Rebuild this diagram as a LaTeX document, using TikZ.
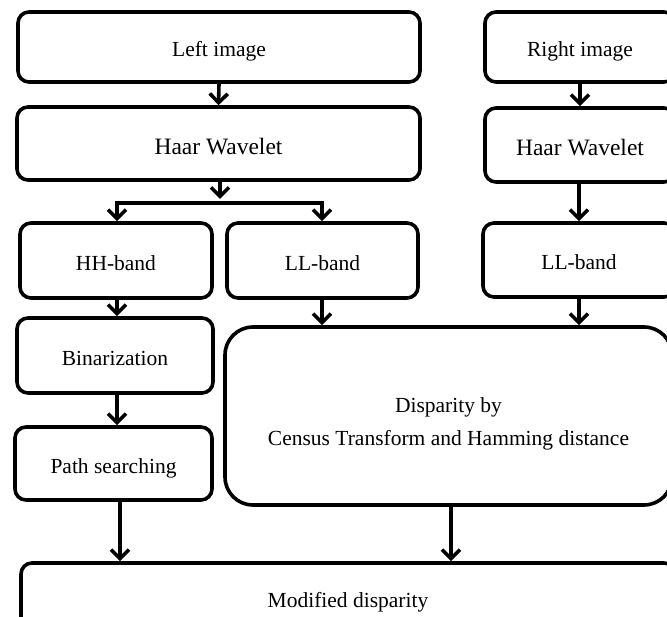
\documentclass[tikz,border=0pt]{standalone}
\usepackage{fontspec}
\setmainfont{Liberation Serif}
\usetikzlibrary{arrows.meta}
\begin{document}
\begin{tikzpicture}[x=1pt,y=-1pt,
  box/.style={draw, line width=3.6pt, rounded corners=11pt, inner sep=0pt, align=center, text height=20pt, text depth=0pt, font=\fontsize{21.5}{26}\selectfont},
  big/.style={font=\fontsize{23.5}{28}\selectfont, text height=22pt},
  arr/.style={line width=3.6pt, -{Straight Barb[length=9pt,width=18pt]}},
  ln/.style={line width=3.6pt, line cap=rect}]
\useasboundingbox (0,0) rectangle (667,617);
\clip (0,0) rectangle (667,617);
% left column
\node[box, minimum width=402pt, minimum height=70pt] (L1) at (219,47) {Left image};
\node[box, big, minimum width=403pt, minimum height=73pt] (L2) at (218.5,143.5) {Haar Wavelet};
\node[box, minimum width=192pt, minimum height=75pt] (HH) at (116,260.5) {HH-band};
\node[box, minimum width=191pt, minimum height=75pt] (LLl) at (322.5,260.5) {LL-band};
\node[box, minimum width=196pt, minimum height=75pt] (Bin) at (115,355.5) {Binarization};
\node[box, minimum width=197pt, minimum height=73pt] (Path) at (113.5,463.5) {Path searching};
% right column
\node[box, minimum width=190pt, minimum height=70pt] (R1) at (580,47) {Right image};
\node[box, big, minimum width=190pt, minimum height=74pt] (R2) at (580,145) {Haar Wavelet};
\node[box, minimum width=192pt, minimum height=74pt] (LLr) at (579,260) {LL-band};
% disparity
\node[box, rounded corners=28pt, minimum width=447pt, minimum height=178pt, text height=, text depth=, font=\fontsize{21.5}{33}\selectfont] (Disp) at (448.5,416) {\raisebox{-13pt}[0pt][0pt]{\parbox{420pt}{\centering Disparity by\\Census Transform and Hamming distance}}};
\node[box, minimum width=654pt, minimum height=68pt] (Mod) at (348,597) {Modified disparity};
% connectors
\draw[arr] (L1.south) -- (L2.north);
\draw[arr] (R1.south) -- (R2.north);
\coordinate (spt) at (220,199);
\coordinate (sl) at (117,203);
\coordinate (sr) at (322,203);
\draw[arr] (L2.south -| spt) -- (spt);
\draw[ln] (sl) -- (sr);
\draw[arr] (sl) -- (sl |- HH.north);
\draw[arr] (sr) -- (sr |- LLl.north);
\coordinate (cl) at (117,0);
\draw[arr] (HH.south -| cl) -- (Bin.north -| cl);
\draw[arr] (Bin.south -| cl) -- (Path.north -| cl);
\draw[arr] (R2.south -| LLr.north) -- (LLr.north);
\coordinate (cm) at (322,0);
\draw[arr] (LLl.south -| cm) -- (Disp.north -| cm);
\draw[arr] (LLr.south) -- (Disp.north -| LLr.south);
\coordinate (cp) at (120,0);
\draw[arr] (Path.south -| cp) -- (Mod.north -| cp);
\coordinate (cd) at (451,0);
\draw[arr] (Disp.south -| cd) -- (Mod.north -| cd);
\end{tikzpicture}
\end{document}
